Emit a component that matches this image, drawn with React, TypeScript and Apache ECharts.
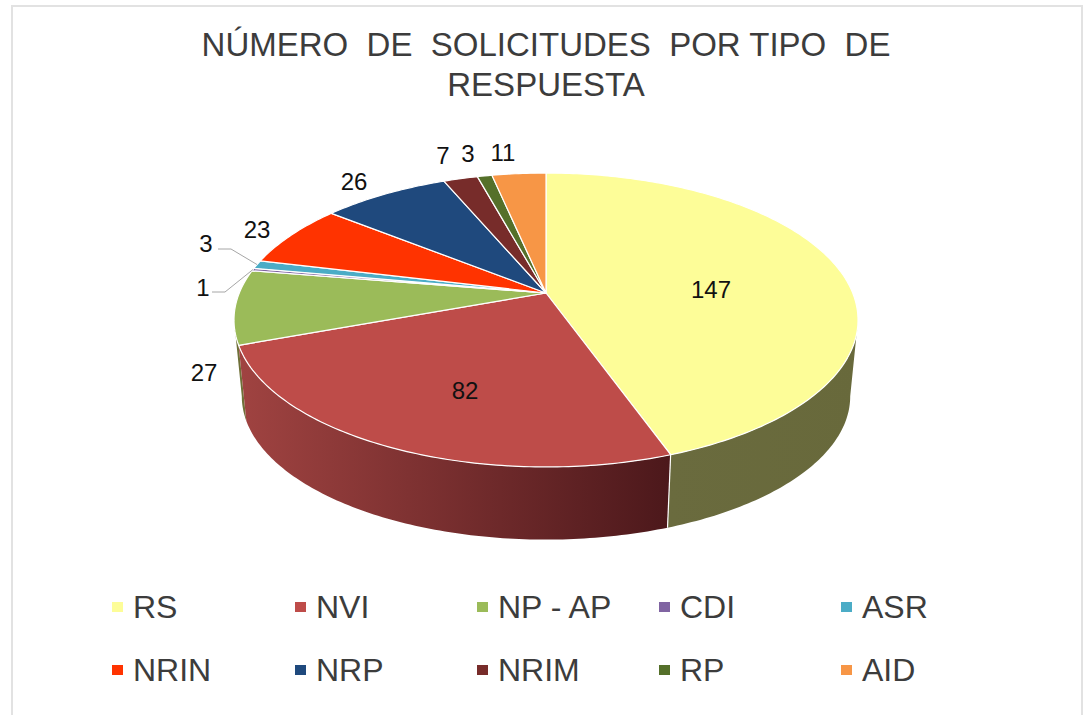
import React, { useEffect, useRef } from "react";
import * as echarts from "echarts";

const categories = ["RS", "NVI", "NP - AP", "CDI", "ASR", "NRIN", "NRP", "NRIM", "RP", "AID"];
const values = [147, 82, 27, 1, 3, 23, 26, 7, 3, 11];
const topColors = ["#FDFD98", "#BE4C49", "#9BBB59", "#8064A2", "#4BACC6", "#FF3300", "#1F497D", "#772C2A", "#55702A", "#F79646"];
const wallLeft = ["#6A6B3E", "#A04341", "#6F7038", "#59466F", "#347889", "#B32400", "#153357", "#531F1D", "#3B4E1D", "#AD6931"];
const wallRight = ["#68693B", "#4C181B", "#6F7038", "#59466F", "#347889", "#B32400", "#153357", "#531F1D", "#3B4E1D", "#AD6931"];
const labelAnchors = [[711, 289], [465, 390], [204, 372], [203, 287], [206, 243], [257, 229], [354, 181], [443, 155], [468, 153], [503, 152]];
const leaderStarts: Record<number, number[][]> = { 3: [[212, 292], [225, 292]], 4: [[218, 249], [231, 249]] };
const legendCols = [112, 295, 477, 659, 841];
const legendRows = [591, 654];

const TITLE = "NÚMERO  DE  SOLICITUDES  POR TIPO  DE\nRESPUESTA";

// Perspective projection of the pie's disc onto the page.
const CX = 546;
const Y_TOP = 293;
const Y_LOW = 370;
const LOW_SCALE = 0.975;
const A = 306.7;
const B = 142;
const K = -0.1837;
// Angles where the projected rim is widest: the wall's visible outline runs between them.
const THETA_RIGHT = Math.acos(K);
const THETA_LEFT = Math.PI * 2 - THETA_RIGHT;

const total = values.reduce((a, b) => a + b, 0);
const rad = (v: number) => (v / total) * Math.PI * 2;

function rim(theta: number, y0: number, s: number): number[] {
  const u = Math.sin(theta);
  const v = -Math.cos(theta);
  const d = 1 + K * v;
  return [CX + (s * A * u) / d, y0 + (s * B * v) / d];
}

function arcPoints(a0: number, a1: number, y0: number, s: number): number[][] {
  const n = Math.max(2, Math.ceil((a1 - a0) / 0.015));
  const out: number[][] = [];
  for (let i = 0; i <= n; i++) out.push(rim(a0 + ((a1 - a0) * i) / n, y0, s));
  return out;
}

function makeRenderItem(index: number) {
  return (_params: any, api: any) => {
    const value = api.value(0);
    let before = 0;
    for (let i = 0; i < index; i++) before += values[i];
    const a0 = rad(before);
    const a1 = rad(before + value);
    const topArc = arcPoints(a0, a1, Y_TOP, 1);
    const children: any[] = [];
    const wall0 = Math.max(a0, THETA_RIGHT);
    const wall1 = Math.min(a1, THETA_LEFT);
    if (wall1 > wall0) {
      children.push({
        type: "polygon",
        z2: index < 2 ? 2 : 1,
        shape: {
          points: [...arcPoints(wall0, wall1, Y_TOP, 1), ...arcPoints(wall0, wall1, Y_LOW, LOW_SCALE).reverse()],
        },
        style: {
          fill: new echarts.graphic.LinearGradient(0, 0, 1, 0, [
            { offset: 0, color: wallLeft[index] },
            { offset: 1, color: wallRight[index] },
          ]),
        },
      });
    }
    // Seam only where a slice starts on the front right of the pie.
    if (Math.sin(a0) > 0 && Math.cos(a0) < 0) {
      const a = rim(a0, Y_TOP, 1);
      const b = rim(a0, Y_LOW, LOW_SCALE);
      children.push({
        type: "line",
        z2: 3,
        shape: { x1: a[0], y1: a[1], x2: b[0], y2: b[1] },
        style: { stroke: "#ffffff", lineWidth: 1.2 },
      });
    }
    children.push({
      type: "polygon",
      z2: 5,
      shape: { points: [[CX, Y_TOP], ...topArc] },
      style: { fill: topColors[index], stroke: "#ffffff", lineWidth: 1.2, lineJoin: "round" },
    });
    if (leaderStarts[index]) {
      const mid = rim((a0 + a1) / 2, Y_TOP, 1);
      children.push({
        type: "polyline",
        z2: 6,
        shape: { points: [...leaderStarts[index], mid] },
        style: { stroke: "#a6a6a6", lineWidth: 1, fill: "none" },
      });
    }
    children.push({
      type: "text",
      z2: 10,
      x: labelAnchors[index][0],
      y: labelAnchors[index][1],
      style: {
        text: String(value),
        fill: "#111111",
        font: "24px 'Liberation Sans', Arial, sans-serif",
        align: "center",
        verticalAlign: "middle",
      },
    });
    return { type: "group", children };
  };
}

export default function App() {
  const ref = useRef<HTMLDivElement>(null);
  useEffect(() => {
    document.body.style.margin = "0";
    const chart = echarts.init(ref.current!, null, { renderer: "svg" });
    chart.setOption({
      animation: false,
      backgroundColor: "#ffffff",
      title: {
        text: TITLE,
        left: 541,
        top: 19,
        textAlign: "center",
        textStyle: {
          fontFamily: "'Liberation Sans', Arial, sans-serif",
          fontSize: 33,
          fontWeight: "normal",
          color: "#3c3c3c",
          lineHeight: 40,
        },
      },
      graphic: [
        {
          type: "rect",
          silent: true,
          shape: { x: 12, y: 6, width: 1070, height: 730 },
          style: { fill: "none", stroke: "#e2e2e2", lineWidth: 2 },
        },
      ],
      legend: categories.map((name, i) => ({
        data: [name],
        left: legendCols[i % 5],
        top: legendRows[Math.floor(i / 5)],
        icon: "rect",
        itemWidth: 11,
        itemHeight: 10,
        padding: 0,
        selectedMode: false,
        textStyle: {
          fontFamily: "'Liberation Sans', Arial, sans-serif",
          fontSize: 32,
          color: "#3c3c3c",
          padding: [0, 0, 0, 5],
        },
      })),
      series: categories.map((name, i) => ({
        type: "custom",
        name,
        coordinateSystem: "none",
        silent: true,
        itemStyle: { color: topColors[i] },
        data: [[values[i]]],
        renderItem: makeRenderItem(i),
      })),
    });
    return () => chart.dispose();
  }, []);
  return <div ref={ref} style={{ position: "absolute", left: 0, top: 0, width: 1086, height: 715 }} />;
}
